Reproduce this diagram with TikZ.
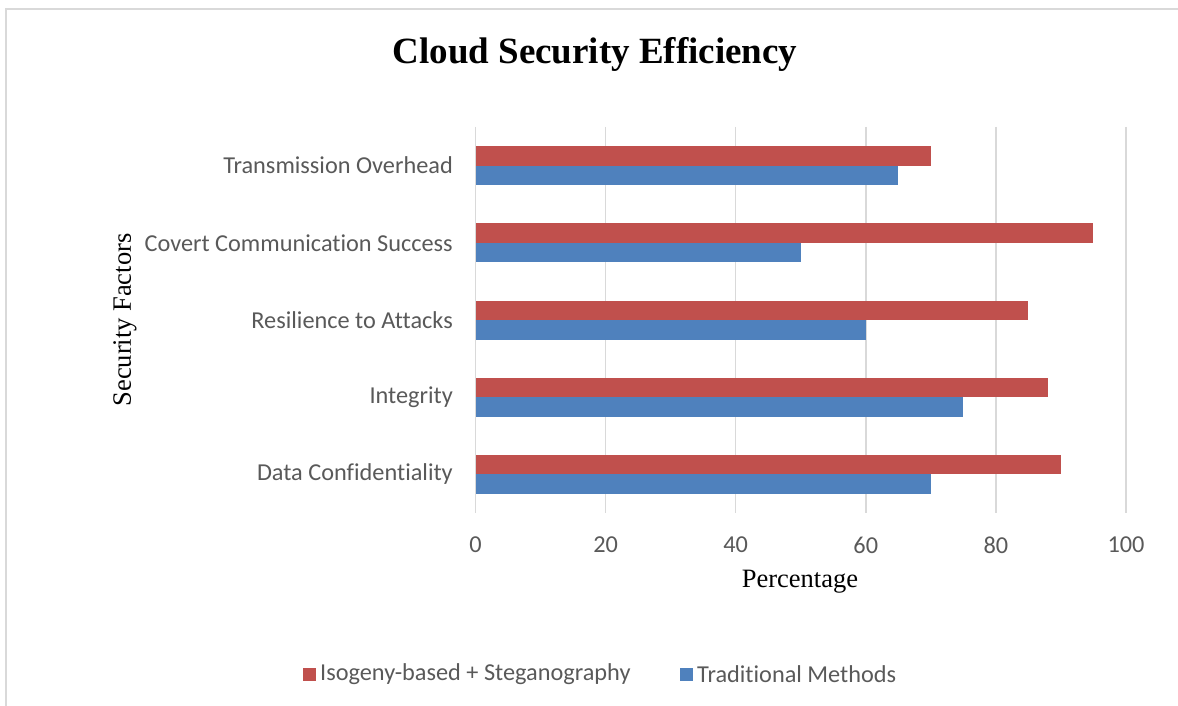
\documentclass[tikz,border=0pt]{standalone}
\usepackage{fontspec}
\setmainfont{Liberation Serif}
\newfontfamily\calfont[Ligatures=NoCommon]{Carlito}
\definecolor{redbar}{HTML}{C0504D}
\definecolor{bluebar}{HTML}{4F81BD}
\definecolor{gridgray}{HTML}{D9D9D9}
\definecolor{txtgray}{HTML}{595959}
\begin{document}
\begin{tikzpicture}[x=1bp,y=-1bp,
  lbl/.style={font=\calfont\fontsize{24.3bp}{28bp}\selectfont, text=txtgray, inner sep=0pt},
  axtitle/.style={font=\fontsize{26.5bp}{30bp}\selectfont, text=black, inner sep=0pt},
  gridline/.style={draw=gridgray, line width=1.5bp},
  redfill/.style={fill=redbar},
  bluefill/.style={fill=bluebar}]
\useasboundingbox (0,0) rectangle (1178,706);
\draw[draw=gridgray, line width=2bp] (5.5,1200) -- (5.5,9.5) -- (1200,9.5);
% title
\node[font=\bfseries\fontsize{37bp}{40bp}\selectfont, inner sep=0pt] (title) at (595,54) {Cloud Security Efficiency};
% grid and ticks
\foreach \v [count=\i] in {0,20,40,60,80,100}{
  \draw[gridline] ({475.5+6.505*\v},127) -- ({475.5+6.505*\v},513);
  \node[lbl] (tick\i) at ({475.5+6.505*\v},545) {\v};
}
% bars: category index, label, red value, blue value
\foreach \lab/\r/\b [count=\i] in {Transmission Overhead/70/65, Covert Communication Success/95/50, Resilience to Attacks/85/60, Integrity/88/75, Data Confidentiality/90/70}{
  \pgfmathsetmacro{\yc}{127+77.2*(\i-0.5)}
  \fill[redfill] (475.5,\yc-19.5) rectangle ({475.5+6.505*\r},\yc);
  \fill[bluefill] (475.5,\yc) rectangle ({475.5+6.505*\b},\yc+19.5);
  \node[lbl, anchor=east] (cat\i) at (453,\yc) {\lab};
}
\node[axtitle] (xtitle) at (800,582) {Percentage};
\node[axtitle, rotate=90] (ytitle) at (125,320) {Security Factors};
% legend
\node[fill=redbar, minimum size=13bp, inner sep=0pt] (legred) at (309.5,674) {};
\node[lbl, anchor=west] (legredt) at (320,674) {Isogeny-based + Steganography};
\node[fill=bluebar, minimum size=13bp, inner sep=0pt] (legblue) at (686.5,674) {};
\node[lbl, anchor=west] (legbluet) at (697,674) {Traditional Methods};
\end{tikzpicture}
\end{document}
